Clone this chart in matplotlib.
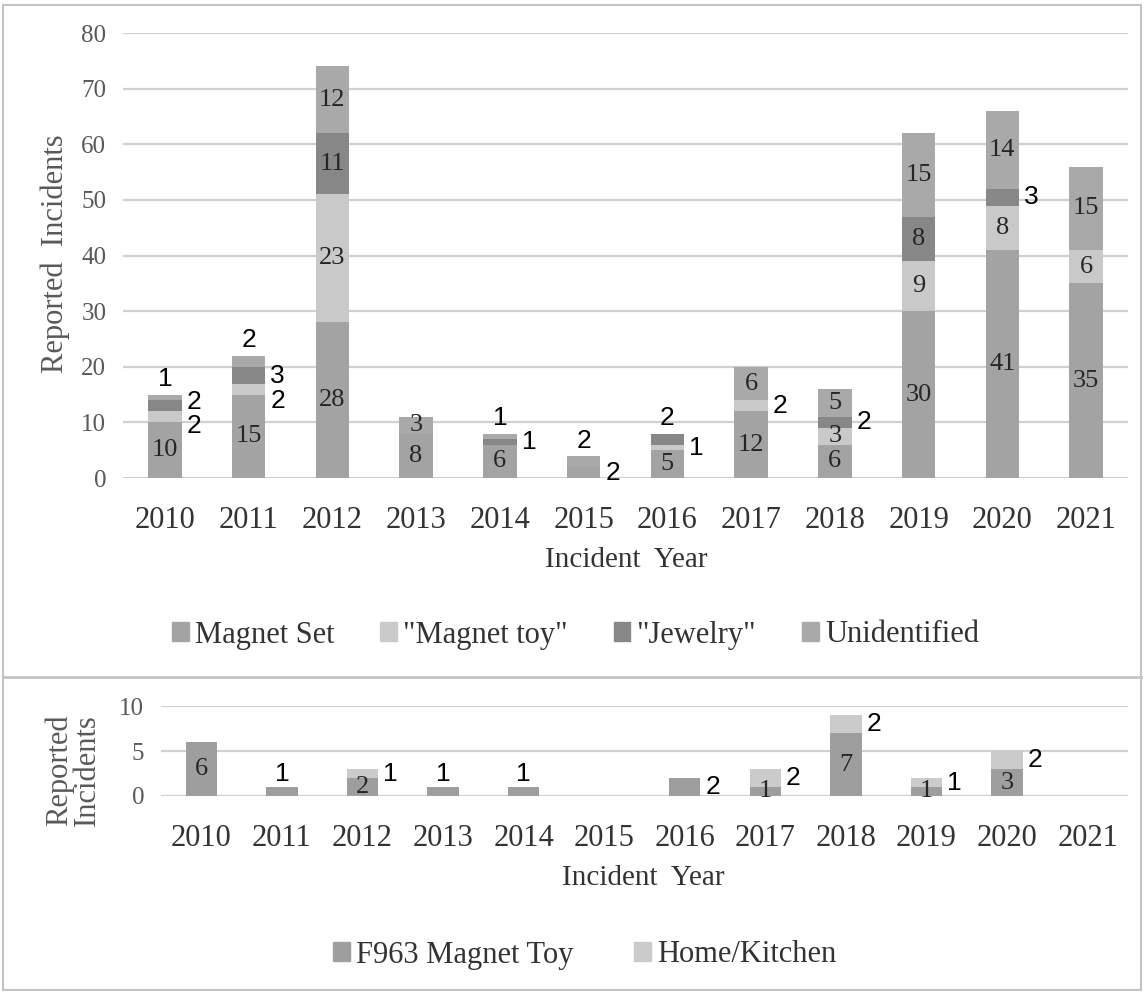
import matplotlib
matplotlib.use("Agg")
import matplotlib.pyplot as plt
import numpy as np
from matplotlib.patches import Rectangle, Patch
from matplotlib.lines import Line2D

years = ["2010", "2011", "2012", "2013", "2014", "2015",
         "2016", "2017", "2018", "2019", "2020", "2021"]

# top panel
magnet_set = [10, 15, 28, 8, 6, 2, 5, 12, 6, 30, 41, 35]
magnet_toy = [2, 2, 23, 0, 0, 0, 1, 2, 3, 9, 8, 6]
jewelry = [2, 3, 11, 0, 1, 0, 2, 0, 2, 8, 3, 0]
unidentified = [1, 2, 12, 3, 1, 2, 0, 6, 5, 15, 14, 15]

# bottom panel
f963 = [6, 1, 2, 1, 1, 0, 2, 1, 7, 1, 3, 0]
home_kitchen = [0, 0, 1, 0, 0, 0, 0, 2, 2, 1, 2, 0]

# where each value label goes: c = centre, r = right of bar, t = on top
top_pos = [
    ["c", "c", "c", "c", "c", "r", "c", "c", "c", "c", "c", "c"],
    ["r", "r", "c", "", "", "", "r", "r", "c", "c", "c", "c"],
    ["r", "r", "c", "", "r", "", "t", "", "r", "c", "r", ""],
    ["t", "t", "c", "c", "t", "t", "", "c", "c", "c", "c", "c"],
]
bot_pos = [
    ["c", "t", "c", "t", "t", "", "r", "c", "c", "c", "c", ""],
    ["", "", "r", "", "", "", "", "r", "r", "r", "r", ""],
]
# small vertical nudges so the side labels don't collide
top_nudge = {(1, 0): -1.6, (2, 0): 0.6, (1, 1): -2.2, (2, 1): -0.2}

serif = ["Liberation Serif", "DejaVu Serif"]
sans = ["Liberation Sans", "DejaVu Sans"]
grey_txt = "#595959"

fig = plt.figure(figsize=(11.44, 9.94), dpi=100)


def stacked(ax, series, colors, pos, width, ymax, step, lab_off, nudge):
    x = np.arange(len(years))
    bottom = np.zeros(len(years))
    for k, (vals, col, pp) in enumerate(zip(series, colors, pos)):
        vals = np.array(vals, dtype=float)
        ax.bar(x, vals, width, bottom=bottom, color=col, zorder=3)
        for i, v in enumerate(vals):
            p = pp[i]
            if v == 0 or p == "":
                continue
            mid = bottom[i] + v / 2 + nudge.get((k, i), 0)
            if p == "c":
                ax.text(x[i], mid, str(int(v)), ha="center", va="center",
                        fontsize=19, family=serif, color="#262626", zorder=4)
            elif p == "r":
                ax.text(x[i] + width / 2 + 0.06, mid, str(int(v)), ha="left",
                        va="center", fontsize=19, family=sans, color="black")
            else:
                tot = sum(s[i] for s in series)
                ax.text(x[i], tot + lab_off, str(int(v)), ha="center",
                        va="bottom", fontsize=19, family=sans, color="black")
        bottom += vals
    ax.set_xlim(-0.5, len(years) - 0.5)
    ax.set_ylim(0, ymax)
    ax.set_yticks(np.arange(0, ymax + 1, step))
    ax.yaxis.grid(True, color="#d0d0d0", lw=1.6, zorder=0)
    for s in ax.spines.values():
        s.set_visible(False)
    ax.set_xticks(np.arange(len(years)))
    ax.set_xticklabels(years, family=serif, fontsize=22, color="#333333")
    ax.tick_params(axis="x", length=0, pad=20)
    ax.tick_params(axis="y", length=0, pad=12, labelsize=18, labelcolor=grey_txt)
    for t in ax.get_yticklabels():
        t.set_family(serif)


ax1 = fig.add_axes([0.1075, 0.519, 0.8785, 0.4477])
top_colors = ["#a3a3a3", "#c9c9c9", "#878787", "#a9a9a9"]
stacked(ax1, [magnet_set, magnet_toy, jewelry, unidentified], top_colors,
        top_pos, 0.4, 80, 10, 0.6, top_nudge)

ax2 = fig.add_axes([0.1407, 0.1992, 0.8453, 0.0905])
bot_colors = ["#9e9e9e", "#cbcbcb"]
stacked(ax2, [f963, home_kitchen], bot_colors, bot_pos, 0.39, 10, 5, 0.1, {})

# axis titles
fig.text(0.048, 0.745, "Reported  Incidents", rotation=90, ha="center",
         va="center", family=serif, fontsize=22, color=grey_txt)
fig.text(0.547, 0.437, "Incident  Year", ha="center", va="center",
         family=serif, fontsize=21, color="#333333")
fig.text(0.064, 0.225, "Reported\nIncidents", rotation=90, ha="center",
         va="center", family=serif, fontsize=22, color=grey_txt,
         linespacing=0.95)
fig.text(0.562, 0.117, "Incident  Year", ha="center", va="center",
         family=serif, fontsize=21, color="#333333")

# legends
names_top = ["Magnet Set", '"Magnet toy"', '"Jewelry"', "Unidentified"]
h_top = [Patch(color=c) for c in top_colors]
fig.legend(h_top, names_top, loc="center", bbox_to_anchor=(0.503, 1 - 635 / 994),
           ncol=4, frameon=False, handlelength=0.55, handleheight=0.55,
           handletextpad=0.2, columnspacing=1.5,
           prop={"family": serif, "size": 22})
for t in fig.legends[-1].get_texts():
    t.set_color("#333333")

names_bot = ["F963 Magnet Toy", "Home/Kitchen"]
h_bot = [Patch(color=c) for c in bot_colors]
fig.legend(h_bot, names_bot, loc="center", bbox_to_anchor=(0.511, 1 - 955 / 994),
           ncol=2, frameon=False, handlelength=0.55, handleheight=0.55,
           handletextpad=0.2, columnspacing=2.0,
           prop={"family": serif, "size": 22})
for t in fig.legends[-1].get_texts():
    t.set_color("#333333")

# panel frames
fig.add_artist(Rectangle((0.003, 0.004), 0.994, 0.991, transform=fig.transFigure,
                         fill=False, ec="#c4c4c4", lw=1.5))
fig.add_artist(Line2D([0.003, 0.997], [1 - 677 / 994, 1 - 677 / 994],
                      transform=fig.transFigure, color="#c4c4c4", lw=2))

fig.savefig("out.png", dpi=100)
